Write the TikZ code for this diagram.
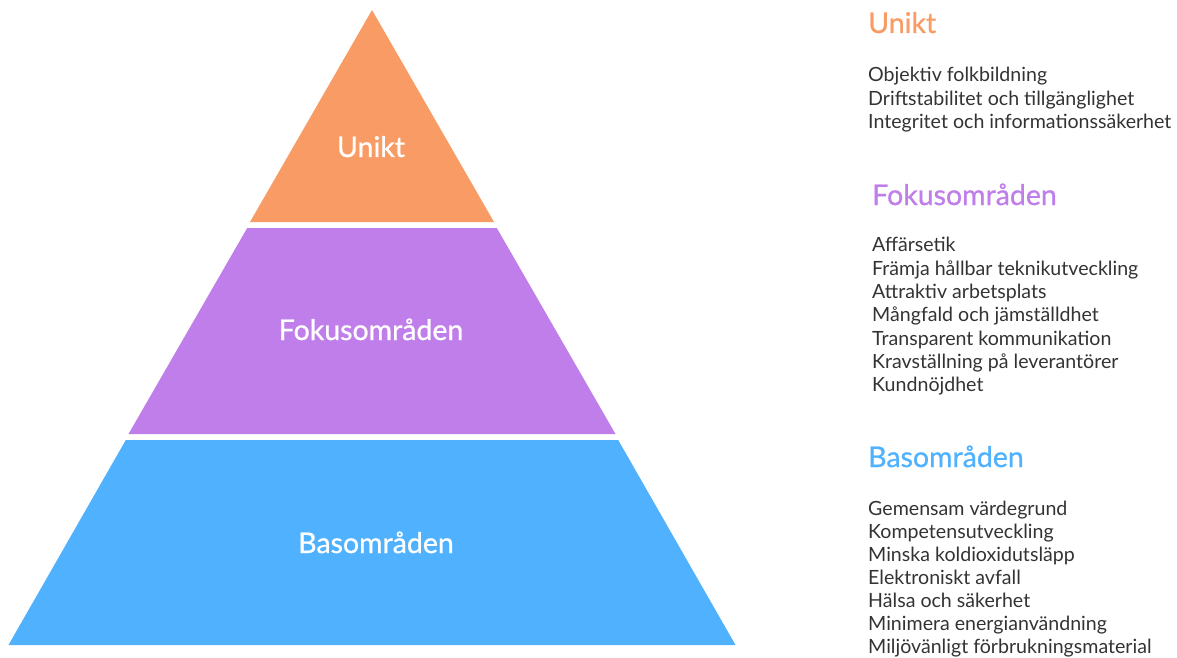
\documentclass[tikz,border=0pt]{standalone}
\usepackage{fontspec}
\setmainfont{Lato}
\newfontfamily\medfont[FakeBold=0.8]{Lato}
\definecolor{cOr}{HTML}{F89B65}
\definecolor{cPu}{HTML}{C07EEB}
\definecolor{cBl}{HTML}{50B2FE}
\definecolor{cTx}{HTML}{333333}
\begin{document}
\begin{tikzpicture}[x=1pt,y=-1pt,
  tierlabel/.style={text=white,font=\medfont\fontsize{28.5}{34}\selectfont,anchor=base,inner sep=0pt},
  head/.style={font=\medfont\fontsize{28.5}{34}\selectfont,anchor=base west,inner sep=0pt},
  item/.style={text=cTx,font=\fontsize{19.6}{23}\selectfont,anchor=base west,inner sep=0pt}]
\useasboundingbox (0,0) rectangle (1177,658);
% pyramid
\fill[cOr] (372,10) -- (494,222) -- (250,222) -- cycle;
\fill[cPu] (247.2,228) -- (496.8,228) -- (615.5,434) -- (128.5,434) -- cycle;
\fill[cBl] (125.8,440) -- (618.2,440) -- (735.5,645) -- (8.5,645) -- cycle;
\node[tierlabel] (lu) at (371,157) {Unikt};
\node[tierlabel] (lf) at (371,340) {Fokusområden};
\node[tierlabel] (lb) at (376,553) {Basområden};
% legend
\node[head,text=cOr] (hu) at (868,33) {Unikt};
\node[item] (u1) at (868,82) {Objektiv folkbildning};
\node[item] (u2) at (868,105.3) {Driftstabilitet och tillgänglighet};
\node[item] (u3) at (868,128.6) {Integritet och informationssäkerhet};
\node[head,text=cPu] (hf) at (872,205) {Fokusområden};
\node[item] (f1) at (872,251.7) {Affärsetik};
\node[item] (f2) at (872,275) {Främja hållbar teknikutveckling};
\node[item] (f3) at (872,298.4) {Attraktiv arbetsplats};
\node[item] (f4) at (872,321.7) {Mångfald och jämställdhet};
\node[item] (f5) at (872,345) {Transparent kommunikation};
\node[item] (f6) at (872,368.4) {Kravställning på leverantörer};
\node[item] (f7) at (872,391.7) {Kundnöjdhet};
\node[head,text=cBl] (hb) at (868,467) {Basområden};
\node[item] (b1) at (868,515) {Gemensam värdegrund};
\node[item] (b2) at (868,538) {Kompetensutveckling};
\node[item] (b3) at (868,561.1) {Minska koldioxidutsläpp};
\node[item] (b4) at (868,584.2) {Elektroniskt avfall};
\node[item] (b5) at (868,607.2) {Hälsa och säkerhet};
\node[item] (b6) at (868,630.3) {Minimera energianvändning};
\node[item] (b7) at (868,653.3) {Miljövänligt förbrukningsmaterial};
\end{tikzpicture}
\end{document}
